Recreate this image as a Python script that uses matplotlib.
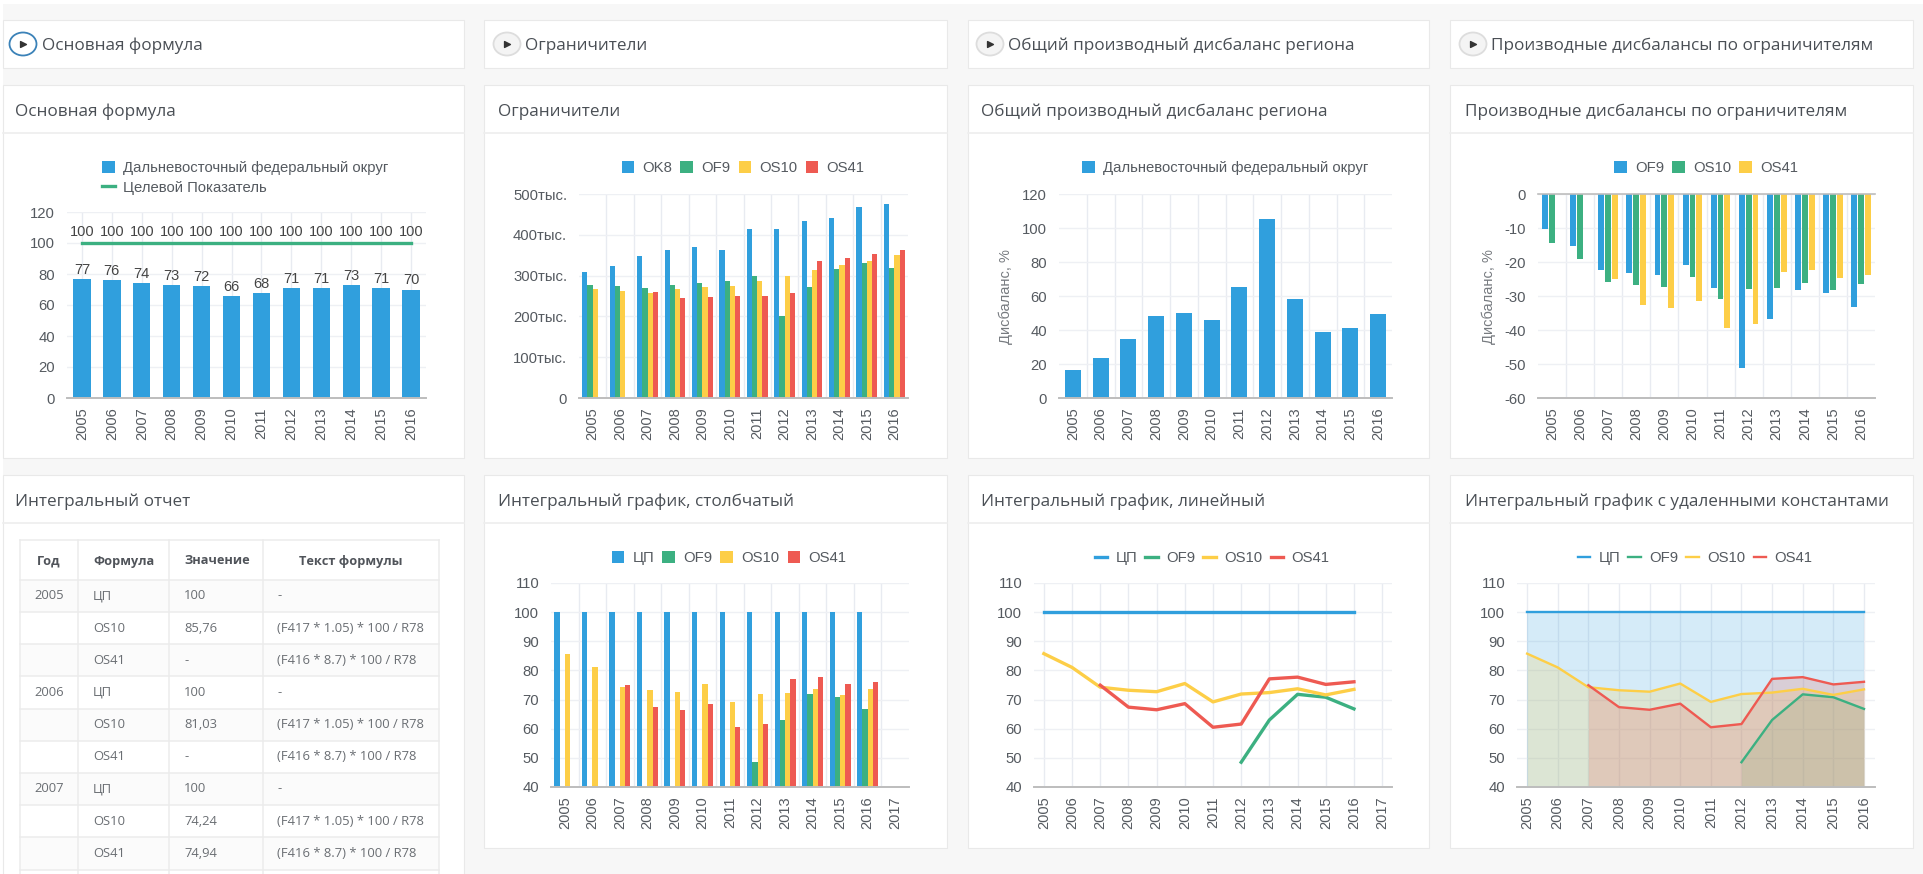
import numpy as np
import matplotlib
matplotlib.use("Agg")
import matplotlib.pyplot as plt
from matplotlib.patches import Rectangle, Ellipse, Patch
from matplotlib.lines import Line2D

W, H = 1923, 874
N = np.nan
BLUE, GREEN, YELLOW, RED = "#309fdd", "#3cb081", "#fdce47", "#ee5a52"
TXT = "#555a60"
TITLE_C = "#4a4f55"
CHART_FONT = "Liberation Sans"
UI_FONT = "Open Sans"

years = [str(y) for y in range(2005, 2017)]
years_ext = years + ["2017"]

# --- chart 1
main_values = [77, 76, 74, 73, 72, 66, 68, 71, 71, 73, 71, 70]
target_values = [100] * 12
main_ticks = [0, 20, 40, 60, 80, 100, 120]

# --- chart 2
ok8 = [309, 324, 347, 362, 371, 362, 413, 415, 433, 441, 467, 476]
of9_abs = [278, 275, 270, 278, 283, 287, 299, 201, 273, 317, 331, 318]
os10_abs = [266, 263, 258, 266, 271, 274, 286, 299, 314, 325, 335, 351]
os41_abs = [N, N, 261, 245, 248, 250, 250, 257, 335, 343, 352, 363]
limit_ticks = [0, 100, 200, 300, 400, 500]
limit_labels = ["0", "100тыс.", "200тыс.", "300тыс.", "400тыс.", "500тыс."]

# --- chart 3
region = [16.7, 23.4, 34.6, 48.2, 50.2, 45.6, 65.1, 105.2, 58.2, 39.1, 40.9, 49.4]
region_ticks = [0, 20, 40, 60, 80, 100, 120]

# --- chart 4
of9_d = [-10.2, -15.2, -22.4, -23.3, -23.8, -20.9, -27.5, -51.3, -36.9, -28.1, -29.1, -33.1]
os10_d = [-14.3, -19.1, -25.8, -26.8, -27.3, -24.5, -30.8, -28.0, -27.5, -26.2, -28.3, -26.4]
os41_d = [N, N, -25.1, -32.6, -33.4, -31.5, -39.4, -38.3, -22.8, -22.4, -24.8, -23.8]
deriv_ticks = [0, -10, -20, -30, -40, -50, -60]

# --- integral charts
cp = [100] * 12
of9_i = [N, N, N, N, N, N, N, 48.5, 63.0, 71.8, 70.8, 66.8]
os10_i = [85.76, 81.03, 74.24, 73.2, 72.7, 75.5, 69.2, 71.9, 72.4, 73.7, 71.6, 73.5]
os41_i = [N, N, 74.94, 67.4, 66.5, 68.6, 60.5, 61.6, 77.1, 77.7, 75.2, 76.1]
int_ticks = [40, 50, 60, 70, 80, 90, 100, 110]

# --- table
table_header = ["Год", "Формула", "Значение", "Текст формулы"]
table_years = ["2005", "", "", "2006", "", "", "2007", "", ""]
table_formulas = ["ЦП", "OS10", "OS41"] * 3
table_values = ["100", "85,76", "-", "100", "81,03", "-", "100", "74,24", "74,94"]
table_texts = ["-", "(F417 * 1.05) * 100 / R78", "(F416 * 8.7) * 100 / R78"] * 3

card_titles_top = ["Основная формула", "Ограничители",
                   "Общий производный дисбаланс региона",
                   "Производные дисбалансы по ограничителям"]
card_titles_bottom = ["Интегральный отчет", "Интегральный график, столбчатый",
                      "Интегральный график, линейный",
                      "Интегральный график с удаленными константами"]

fig = plt.figure(figsize=(W / 100, H / 100), dpi=100, facecolor="white")
bg = fig.add_axes([0, 0, 1, 1], zorder=0)
bg.set_xlim(0, W)
bg.set_ylim(H, 0)
bg.axis("off")
bg.add_patch(Rectangle((3, 4), W, H, fc="#f7f7f7", ec="none"))


def card(x0, x1, y0, y1, header=None):
    bg.add_patch(Rectangle((x0 + 1, y0 + 1), x1 - x0, y1 - y0, fc="#ececec", ec="none"))
    bg.add_patch(Rectangle((x0, y0), x1 - x0, y1 - y0, fc="white", ec="#e9e9e9", lw=0.8))
    if header:
        bg.plot([x0, x1], [header, header], color="#eeeeee", lw=1.2)


col_x = [(3, 464), (484, 947), (968, 1429), (1450, 1913)]
title_x = [15, 498, 981, 1465]
icon_x = [23, 507, 990, 1473]
head_x = [42, 525, 1008, 1491]

for i, (a, b) in enumerate(col_x):
    card(a, b, 20, 68)
    card(a, b, 85, 458, header=133)
    card(a, b, 475, 848 if i else 880, header=523)
    hot = i == 0
    bg.add_patch(Ellipse((icon_x[i], 44), 27, 23, fc="white" if hot else "#f4f4f4",
                         ec="#3b82b8" if hot else "#dddddd", lw=1.3))
    bg.scatter([icon_x[i]], [44], marker=">", s=18, color="#333333", zorder=5)
    bg.text(head_x[i], 46, card_titles_top[i], family=UI_FONT, fontsize=12.35, color=TITLE_C, va="center")
    bg.text(title_x[i], 112, card_titles_top[i], family=UI_FONT, fontsize=12.35, color=TITLE_C, va="center")
    bg.text(title_x[i], 502, card_titles_bottom[i], family=UI_FONT, fontsize=12.3, color=TITLE_C, va="center")

# --- table
tx0, tx1 = 20, 439
col_lines = [tx0, 78, 169, 263, tx1]
ty0, ty1, row_h = 540, 579.7, 32.2
n_rows = 10
for r in range(n_rows):
    y = ty1 + r * row_h
    if r % 2 == 0:
        bg.add_patch(Rectangle((tx0, y), tx1 - tx0, row_h, fc="#fbfbfb", ec="none"))
for y in [ty0] + [ty1 + r * row_h for r in range(n_rows)]:
    bg.plot([tx0, tx1], [y, y], color="#ececec", lw=1.1)
for x in col_lines:
    bg.plot([x, x], [ty0, H], color="#ececec", lw=1.1)
head_pos = [(49, "center"), (93, "left"), (184, "left"), (351, "center")]
for (x, ha), t in zip(head_pos, table_header):
    bg.text(x, 561, t, family=UI_FONT, fontweight="bold", fontsize=9.2, color="#50545a", ha=ha, va="center")
for r in range(9):
    y = ty1 + (r + 0.5) * row_h
    bg.text(49, y, table_years[r], family=UI_FONT, fontsize=9.4, color="#6a6e73", ha="center", va="center")
    bg.text(93, y, table_formulas[r], family=UI_FONT, fontsize=9.4, color="#6a6e73", va="center")
    bg.text(184, y, table_values[r], family=UI_FONT, fontsize=9.4, color="#6a6e73", va="center")
    bg.text(277, y, table_texts[r], family=UI_FONT, fontsize=9.4, color="#6a6e73", va="center")


def axpx(x0, x1, ytop, ybot):
    ax = fig.add_axes([x0 / W, 1 - ybot / H, (x1 - x0) / W, (ybot - ytop) / H], zorder=2)
    ax.patch.set_alpha(0)
    for s in ("top", "left", "right"):
        ax.spines[s].set_visible(False)
    ax.spines["bottom"].set_color("#bdbdbd")
    ax.spines["bottom"].set_linewidth(1.4)
    ax.tick_params(length=0, colors=TXT)
    ax.tick_params(axis="x", pad=6.5, labelsize=10.5)
    ax.tick_params(axis="y", pad=8.5, labelsize=10.7)
    ax.set_axisbelow(True)
    ax.grid(axis="y", color="#eef0f4", lw=1)
    return ax


def finish(ax, labels, yticks, ylabels=None):
    ax.set_xticks(range(len(labels)))
    ax.set_xticklabels(labels, rotation=90, family=CHART_FONT)
    ax.set_yticks(yticks)
    ax.set_yticklabels(ylabels if ylabels else [str(t) for t in yticks], family=CHART_FONT)


def boundaries(ax, n):
    for k in range(1, n):
        ax.axvline(k - 0.5, color="#e8ebf1", lw=1, zorder=0.5)


def legend(cx, cy, handles, labels, ncol, lenh=0.85):
    leg = fig.legend(handles, labels, loc="center", ncol=ncol, frameon=False,
                     bbox_to_anchor=(cx / W, 1 - (cy + 1) / H),
                     prop={"family": CHART_FONT, "size": 10.7},
                     handlelength=lenh, handleheight=0.85, handletextpad=0.55,
                     columnspacing=0.55, labelspacing=0.35, borderpad=0, borderaxespad=0)
    for t in leg.get_texts():
        t.set_color(TXT)
    return leg


def sq(c):
    return Patch(fc=c, ec="none")


def ln(c, lw=2.4):
    return Line2D([0], [0], color=c, lw=lw)


def group(ax, series, colors, width, pitch=None):
    pitch = pitch or width
    n = len(series)
    for i, (s, c) in enumerate(zip(series, colors)):
        ax.bar(np.arange(len(s)) + (i - (n - 1) / 2) * pitch, s, width=width, color=c, zorder=2)


x12 = np.arange(12)

# chart 1
ax = axpx(67, 426, 212, 398)
ax.set_xlim(-0.5, 11.5)
ax.set_ylim(0, 120)
ax.grid(axis="x", color="#e8ebf1", lw=1)
ax.bar(x12, main_values, width=0.58, color=BLUE, zorder=2)
ax.plot(x12, target_values, color=GREEN, lw=2.4, zorder=3)
for i in x12:
    ax.annotate(str(main_values[i]), (i, main_values[i]), xytext=(0, 1.5), textcoords="offset points",
                ha="center", va="bottom", family=CHART_FONT, fontsize=10.5, color="#444444")
    ax.annotate(str(target_values[i]), (i, target_values[i]), xytext=(0, 3), textcoords="offset points",
                ha="center", va="bottom", family=CHART_FONT, fontsize=10.5, color="#444444")
finish(ax, years, main_ticks)
legend(245, 177, [sq(BLUE), ln(GREEN)], ["Дальневосточный федеральный округ", "Целевой Показатель"], 1)

# chart 2
ax = axpx(579, 908, 194, 398)
ax.set_xlim(-0.5, 11.5)
ax.set_ylim(0, 500)
boundaries(ax, 12)
group(ax, [ok8, of9_abs, os10_abs, os41_abs], [BLUE, GREEN, YELLOW, RED], 0.19)
finish(ax, years, limit_ticks, limit_labels)
legend(743, 167, [sq(c) for c in (BLUE, GREEN, YELLOW, RED)], ["OK8", "OF9", "OS10", "OS41"], 4)

# chart 3
ax = axpx(1059, 1392, 194, 398)
ax.set_xlim(-0.5, 11.5)
ax.set_ylim(0, 120)
boundaries(ax, 12)
ax.bar(x12, region, width=0.58, color=BLUE, zorder=2)
finish(ax, years, region_ticks)
legend(1225, 167, [sq(BLUE)], ["Дальневосточный федеральный округ"], 1)
bg.text(1006, 297, "Дисбаланс, %", rotation=90, family=CHART_FONT, fontsize=10.5, color="#777b80",
        ha="center", va="center")

# chart 4
ax = axpx(1538, 1875, 194, 398)
ax.set_xlim(-0.5, 11.5)
ax.set_ylim(-60, 0)
boundaries(ax, 12)
group(ax, [of9_d, os10_d, os41_d], [BLUE, GREEN, YELLOW], 0.21, 0.245)
finish(ax, years, deriv_ticks)
ax.spines["top"].set_visible(True)
ax.spines["top"].set_color("#bdbdbd")
ax.spines["top"].set_linewidth(1.2)
legend(1706, 167, [sq(c) for c in (BLUE, GREEN, YELLOW)], ["OF9", "OS10", "OS41"], 3)
bg.text(1489, 297, "Дисбаланс, %", rotation=90, family=CHART_FONT, fontsize=10.5, color="#777b80",
        ha="center", va="center")

int_series = [cp, of9_i, os10_i, os41_i]
int_colors = [BLUE, GREEN, YELLOW, RED]
int_names = ["ЦП", "OF9", "OS10", "OS41"]

# chart 6
ax = axpx(551, 909, 583, 787)
ax.set_xlim(-0.5, 12.5)
ax.set_ylim(40, 110)
boundaries(ax, 13)
group(ax, int_series, int_colors, 0.19)
finish(ax, years_ext, int_ticks)
legend(729, 557, [sq(c) for c in int_colors], int_names, 4)

# chart 7
ax = axpx(1034, 1392, 583, 787)
ax.set_xlim(-0.35, 12.35)
ax.set_ylim(40, 110)
ax.grid(axis="x", color="#e8ebf1", lw=1)
for s, c in zip(int_series, int_colors):
    ax.plot(x12, s, color=c, lw=2.4, zorder=3)
finish(ax, years_ext, int_ticks)
legend(1212, 557, [ln(c) for c in int_colors], int_names, 4)

# chart 8
ax = axpx(1517, 1875, 583, 787)
ax.set_xlim(-0.33, 11.36)
ax.set_ylim(40, 110)
ax.grid(axis="x", color="#e8ebf1", lw=1)
for s, c in zip(int_series, int_colors):
    arr = np.array(s, dtype=float)
    ax.fill_between(x12, 40, arr, where=~np.isnan(arr), color=c, alpha=0.2, lw=0, zorder=2)
    ax.plot(x12, s, color=c, lw=1.7, zorder=3)
finish(ax, years, int_ticks)
legend(1695, 557, [ln(c, 1.7) for c in int_colors], int_names, 4)

fig.savefig("out.png", dpi=100, facecolor=fig.get_facecolor())
